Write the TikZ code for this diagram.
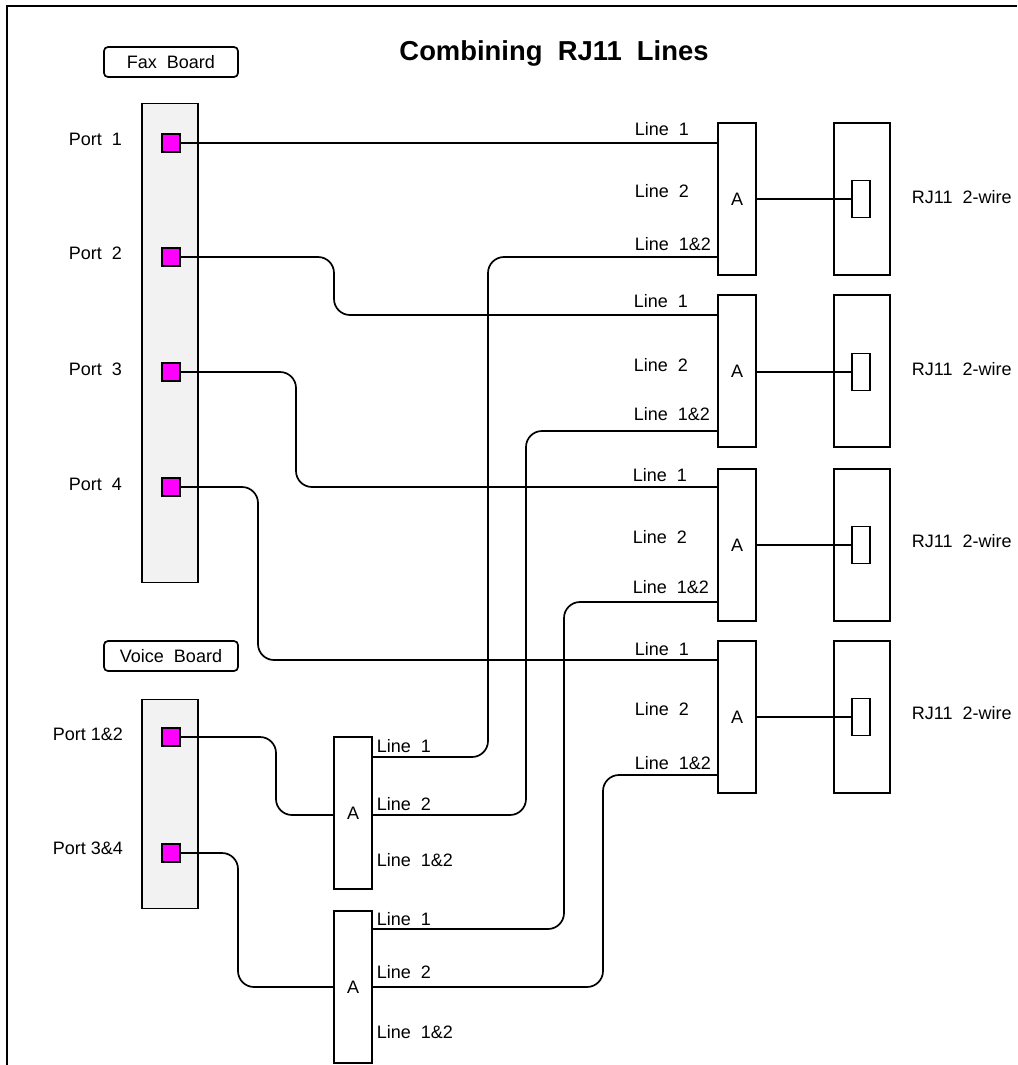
\documentclass[tikz,border=0pt]{standalone}
\usepackage{fontspec}
\setmainfont{Liberation Sans}
\usetikzlibrary{shapes.geometric, arrows.meta, positioning}
\definecolor{panelgray}{HTML}{F2F2F2}
\definecolor{portpink}{HTML}{FF00FF}
\tikzstyle{boardlabel} = [rectangle, rounded corners=4pt, 
minimum width=134pt, 
minimum height=30pt,
inner sep=0pt,
text centered, 
draw=black]
\tikzstyle{faxpanel} = [rectangle, 
minimum width=56pt, 
minimum height=479pt, 
fill=panelgray, 
draw=black]
\tikzstyle{voicepanel} = [rectangle, 
minimum width=56pt, 
minimum height=209pt, 
fill=panelgray, 
draw=black]
\tikzstyle{port} = [rectangle, 
minimum width=18pt, 
minimum height=18pt, 
inner sep=0pt,
fill=portpink, 
draw=black]
\tikzstyle{adapter} = [rectangle, 
minimum width=38pt, 
minimum height=152pt, 
inner sep=0pt,
fill=white,
draw=black]
\tikzstyle{jackbox} = [rectangle, 
minimum width=56pt, 
minimum height=152pt, 
draw=black]
\tikzstyle{jack} = [rectangle, 
minimum width=18pt, 
minimum height=37pt, 
fill=white,
draw=black]
\tikzstyle{txt} = [anchor=west, inner sep=0pt, text height=12pt, text depth=3pt, yshift=-2pt]
\tikzstyle{wire} = [draw=black, rounded corners=16pt]

\begin{document}
\begin{tikzpicture}[x=1pt, y=-1pt, line width=1.7pt, every node/.style={font=\fontsize{18}{21}\selectfont}]

        \useasboundingbox (0,0) rectangle (1017,1065);
        \draw (7,1065) -- (7,6) -- (1017,6);

        % Title and boards
        \node (title) [font=\fontsize{27.4}{31}\bfseries] at (554,53) {Combining\ \ RJ11\ \ Lines};
        \node (faxlabel) [boardlabel] at (171,62) {Fax\ \ Board};
        \node (faxboard) [faxpanel] at (170,343) {};
        \node (voicelabel) [boardlabel] at (171,656) {Voice\ \ Board};
        \node (voiceboard) [voicepanel] at (170,804) {};

        % Ports
        \node (port1) [port] at (171,143) {};
        \node (port2) [port] at (171,257) {};
        \node (port3) [port] at (171,372) {};
        \node (port4) [port] at (171,487) {};
        \node (port12) [port] at (171,737) {};
        \node (port34) [port] at (171,853) {};
        \node (lport1) [txt] at (68,139) {Port\ \ 1};
        \node (lport2) [txt] at (68,253) {Port\ \ 2};
        \node (lport3) [txt] at (68,369) {Port\ \ 3};
        \node (lport4) [txt] at (68,484) {Port\ \ 4};
        \node (lport12) [txt] at (52,734) {Port 1\&2};
        \node (lport34) [txt] at (52,848) {Port 3\&4};

        % Adapters
        \node (a1) [adapter] at (737,199) {A};
        \node (a2) [adapter] at (737,371) {A};
        \node (a3) [adapter] at (737,545) {A};
        \node (a4) [adapter] at (737,717) {A};
        \node (a5) [adapter] at (353,813) {A};
        \node (a6) [adapter] at (353,987) {A};

        % Wall jacks
        \node (box1) [jackbox] at (862,199) {};
        \node (box2) [jackbox] at (862,371) {};
        \node (box3) [jackbox] at (862,545) {};
        \node (box4) [jackbox] at (862,717) {};
        \node (jack1) [jack] at (861,199) {};
        \node (jack2) [jack] at (861,372) {};
        \node (jack3) [jack] at (861,545) {};
        \node (jack4) [jack] at (861,717) {};
        \node (rj1) [txt] at (911,197) {RJ11\ \ 2-wire};
        \node (rj2) [txt] at (911,369) {RJ11\ \ 2-wire};
        \node (rj3) [txt] at (911,541) {RJ11\ \ 2-wire};
        \node (rj4) [txt] at (911,713) {RJ11\ \ 2-wire};

        % Line labels
        \node (a1l1) [txt] at (634,129) {Line\ \ 1};
        \node (a1l2) [txt] at (634,191) {Line\ \ 2};
        \node (a1l3) [txt] at (634,244) {Line\ \ 1\&2};
        \node (a2l1) [txt] at (633,301) {Line\ \ 1};
        \node (a2l2) [txt] at (633,365) {Line\ \ 2};
        \node (a2l3) [txt] at (633,414) {Line\ \ 1\&2};
        \node (a3l1) [txt] at (632,475) {Line\ \ 1};
        \node (a3l2) [txt] at (632,537) {Line\ \ 2};
        \node (a3l3) [txt] at (632,587) {Line\ \ 1\&2};
        \node (a4l1) [txt] at (634,649) {Line\ \ 1};
        \node (a4l2) [txt] at (634,709) {Line\ \ 2};
        \node (a4l3) [txt] at (634,763) {Line\ \ 1\&2};
        \node (a5l1) [txt] at (376,746) {Line\ \ 1};
        \node (a5l2) [txt] at (376,804) {Line\ \ 2};
        \node (a5l3) [txt] at (376,860) {Line\ \ 1\&2};
        \node (a6l1) [txt] at (376,919) {Line\ \ 1};
        \node (a6l2) [txt] at (376,972) {Line\ \ 2};
        \node (a6l3) [txt] at (376,1032) {Line\ \ 1\&2};

        % Adapter pins
        \coordinate (a1in1) at (a1.west |- port1);
        \coordinate (a1in2) at (718,257);
        \coordinate (a2in1) at (718,315);
        \coordinate (a2in2) at (718,431);
        \coordinate (a3in1) at (718,487);
        \coordinate (a3in2) at (718,602);
        \coordinate (a4in1) at (718,660);
        \coordinate (a4in2) at (718,775);
        \coordinate (a5out1) at (372,757);
        \coordinate (a5out2) at (372,815);
        \coordinate (a6out1) at (372,929);
        \coordinate (a6out2) at (372,987);
        \coordinate (a5in) at (334,815);
        \coordinate (a6in) at (334,987);

        % Connections
        \draw [wire] (port1.east) -- (a1in1);
        \draw [wire] (port2.east) -- (334,257) |- (a2in1);
        \draw [wire] (port3.east) -- (296,372) |- (a3in1);
        \draw [wire] (port4.east) -- (258,487) |- (a4in1);
        \draw [wire] (port12.east) -- (276,737) |- (a5in);
        \draw [wire] (port34.east) -- (238,853) |- (a6in);
        \draw [wire] (a5out1) -- (488,757) |- (a1in2);
        \draw [wire] (a5out2) -- (526,815) |- (a2in2);
        \draw [wire] (a6out1) -- (564,929) |- (a3in2);
        \draw [wire] (a6out2) -- (603,987) |- (a4in2);
        \draw (a1.east) -- (jack1.west);
        \draw (a2.east |- jack2) -- (jack2.west);
        \draw (a3.east) -- (jack3.west);
        \draw (a4.east) -- (jack4.west);

    \end{tikzpicture}
\end{document}
